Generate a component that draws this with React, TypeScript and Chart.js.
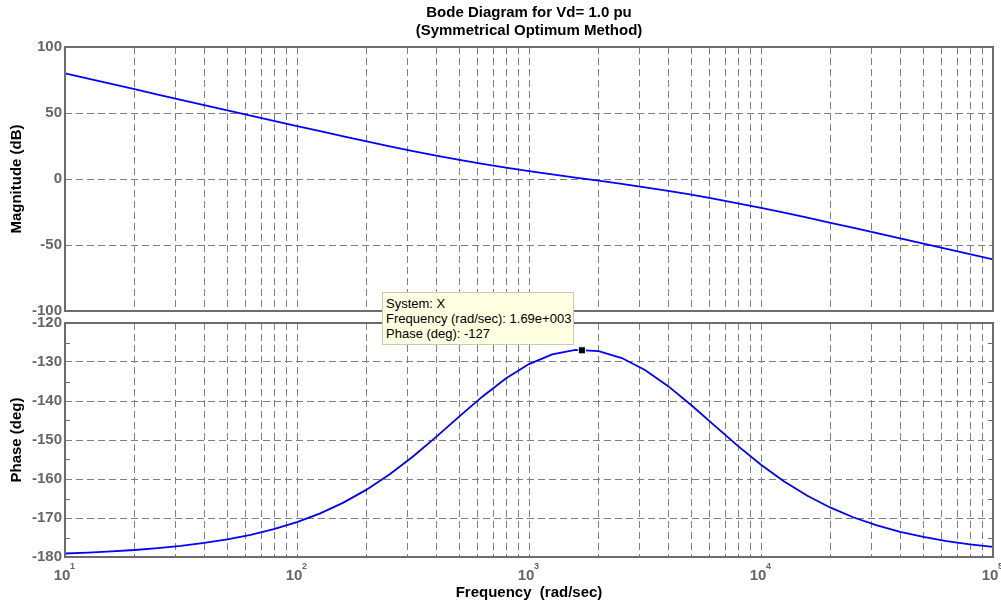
import React, { useEffect, useRef } from 'react';
import { Chart, registerables } from 'chart.js';

Chart.register(...registerables);

// ---- data ----
const freq = [
  10, 12.59, 15.85, 19.95, 25.12, 31.62, 39.81, 50.12, 63.1, 79.43,
  100, 125.9, 158.5, 199.5, 251.2, 316.2, 398.1, 501.2, 631, 794.3,
  1000, 1259, 1585, 1995, 2512, 3162, 3981, 5012, 6310, 7943,
  10000, 12589, 15849, 19953, 25119, 31623, 39811, 50119, 63096, 79433,
  100000,
];
const magnitudeDb = [
  80.0, 76.0, 72.0, 68.0, 64.01, 60.01, 56.02, 52.03, 48.05, 44.09,
  40.14, 36.21, 32.33, 28.51, 24.79, 21.19, 17.73, 14.49, 11.47, 8.65,
  6.02, 3.52, 1.1, -1.3, -3.74, -6.3, -9.01, -11.91, -15.04, -18.38,
  -21.88, -25.55, -29.32, -33.17, -37.07, -41.01, -44.97, -48.94, -52.93, -56.92,
  -60.9,
];
const phaseDeg = [
  -179.1, -178.86, -178.57, -178.2, -177.73, -177.14, -176.4, -175.48, -174.32, -172.87,
  -171.05, -168.81, -166.06, -162.73, -158.79, -154.24, -149.21, -143.96, -138.83, -134.23,
  -130.53, -128.03, -126.91, -127.23, -128.99, -132.05, -136.19, -141.08, -146.32, -151.51,
  -156.33, -160.63, -164.29, -167.36, -169.87, -171.91, -173.55, -174.86, -175.92, -176.76,
  -177.42,
];
const markerFreq = [1690];
const markerPhase = [-127];

const decades = [10, 100, 1000, 10000, 100000];
const decadeExponents = ['1', '2', '3', '4', '5'];
const gridMultipliers = [1, 2, 3, 4, 5, 6, 7, 8, 9];
const magTicks = [-100, -50, 0, 50, 100];
const phaseTicks = [-180, -170, -160, -150, -140, -130, -120];
const phaseMinorTicks = [-175, -165, -155, -145, -135, -125];

const titleLines = ['Bode Diagram for Vd= 1.0 pu', '(Symmetrical Optimum Method)'];
const xAxisTitle = 'Frequency  (rad/sec)';
const magAxisTitle = 'Magnitude (dB)';
const phaseAxisTitle = 'Phase (deg)';
const datatipLines = ['System: X', 'Frequency (rad/sec): 1.69e+003', 'Phase (deg): -127'];

// ---- styles ----
const FONT = "'Liberation Sans', Arial, Helvetica, sans-serif";
const TICK_COLOR = '#666666';
const GRID_COLOR = '#808080';
const FRAME_COLOR = '#6c6c6c';
const LINE_COLOR = '#0000ff';
const DASH = [7, 4];

const xTickValues = decades
  .slice(0, decades.length - 1)
  .flatMap((d) => gridMultipliers.map((m) => m * d))
  .concat([decades[decades.length - 1]]);

function framePlugin(minorTicks: number[] | null) {
  return {
    id: 'frameBox',
    afterDatasetsDraw(chart: any) {
      const { ctx, chartArea: a } = chart;
      ctx.save();
      ctx.setLineDash([]);
      ctx.strokeStyle = FRAME_COLOR;
      ctx.lineWidth = 2;
      ctx.strokeRect(a.left, a.top, a.right - a.left, a.bottom - a.top);
      if (minorTicks) {
        const ys = chart.scales.y;
        ctx.lineWidth = 1;
        minorTicks.forEach((v) => {
          const y = Math.round(ys.getPixelForValue(v)) + 0.5;
          ctx.beginPath();
          ctx.moveTo(a.left, y);
          ctx.lineTo(a.left + 5, y);
          ctx.moveTo(a.right, y);
          ctx.lineTo(a.right - 5, y);
          ctx.stroke();
        });
      }
      ctx.restore();
    },
  };
}

const exponentPlugin = {
  id: 'exponents',
  afterDraw(chart: any) {
    const { ctx } = chart;
    const xs = chart.scales.x;
    ctx.save();
    ctx.font = `bold 9px ${FONT}`;
    ctx.fillStyle = TICK_COLOR;
    ctx.textAlign = 'left';
    ctx.textBaseline = 'alphabetic';
    decades.forEach((d, i) => {
      const x = xs.getPixelForValue(d);
      ctx.fillText(decadeExponents[i], x + 5, xs.top + 12);
    });
    ctx.restore();
  },
};

function clearPadding(s: any) {
  s.paddingLeft = 0;
  s.paddingRight = 0;
  s.paddingTop = 0;
  s.paddingBottom = 0;
}

function xScale(showLabels: boolean) {
  return {
    type: 'logarithmic' as const,
    min: 10,
    max: 100000,
    afterBuildTicks: (s: any) => {
      s.ticks = xTickValues.map((v) => ({ value: v, major: decades.includes(v) }));
    },
    afterFit: (s: any) => {
      s.height = showLabels ? 49 : 0;
      clearPadding(s);
    },
    grid: { color: GRID_COLOR, lineWidth: 1, drawTicks: false },
    border: { display: false, dash: DASH },
    ticks: {
      display: showLabels,
      autoSkip: false,
      maxRotation: 0,
      padding: 10,
      labelOffset: -3,
      color: TICK_COLOR,
      font: { family: FONT, size: 15, weight: 'bold' as const },
      callback: (v: any) => (decades.includes(Number(v)) ? '10' : ''),
    },
  };
}

function yScale(min: number, max: number, ticks: number[], title: string) {
  return {
    type: 'linear' as const,
    min,
    max,
    afterBuildTicks: (s: any) => {
      s.ticks = ticks.map((v) => ({ value: v }));
    },
    afterFit: (s: any) => {
      s.width = 65;
      clearPadding(s);
    },
    grid: { color: GRID_COLOR, lineWidth: 1, drawTicks: false },
    border: { display: false, dash: DASH },
    ticks: {
      padding: 3,
      color: TICK_COLOR,
      font: { family: FONT, size: 15, weight: 'bold' as const },
    },
    title: {
      display: true,
      text: title,
      color: '#000000',
      font: { family: FONT, size: 15, weight: 'bold' as const },
      padding: { top: 8, bottom: 0 },
    },
  };
}

export default function App() {
  const magRef = useRef<HTMLCanvasElement | null>(null);
  const phaseRef = useRef<HTMLCanvasElement | null>(null);

  useEffect(() => {
    const magChart = new Chart(magRef.current as HTMLCanvasElement, {
      type: 'line',
      data: {
        datasets: [
          {
            label: 'Magnitude',
            data: freq.map((f, i) => ({ x: f, y: magnitudeDb[i] })),
            borderColor: LINE_COLOR,
            borderWidth: 1.8,
            pointRadius: 0,
            tension: 0,
          },
        ],
      },
      options: {
        responsive: false,
        animation: false,
        events: [],
        layout: { padding: { top: 47, bottom: 9, left: 0, right: 8 } },
        plugins: { legend: { display: false }, tooltip: { enabled: false } },
        scales: {
          x: xScale(false),
          y: yScale(-100, 100, magTicks, magAxisTitle),
        },
      },
      plugins: [framePlugin(null)],
    });

    const phaseChart = new Chart(phaseRef.current as HTMLCanvasElement, {
      type: 'line',
      data: {
        datasets: [
          {
            label: 'Phase',
            data: freq.map((f, i) => ({ x: f, y: phaseDeg[i] })),
            borderColor: LINE_COLOR,
            borderWidth: 1.8,
            pointRadius: 0,
            tension: 0,
            order: 2,
          },
          {
            label: 'Datatip',
            data: markerFreq.map((f, i) => ({ x: f, y: markerPhase[i] })),
            showLine: false,
            pointStyle: 'rect',
            pointRadius: 5,
            pointBackgroundColor: '#000000',
            pointBorderColor: '#ffffe1',
            pointBorderWidth: 1,
            order: 1,
          },
        ],
      },
      options: {
        responsive: false,
        animation: false,
        events: [],
        layout: { padding: { top: 23, bottom: 0, left: 0, right: 8 } },
        plugins: { legend: { display: false }, tooltip: { enabled: false } },
        scales: {
          x: xScale(true),
          y: yScale(-180, -120, phaseTicks, phaseAxisTitle),
        },
      },
      plugins: [framePlugin(phaseMinorTicks), exponentPlugin],
    });

    return () => {
      magChart.destroy();
      phaseChart.destroy();
    };
  }, []);

  return (
    <div
      style={{
        position: 'absolute',
        left: 0,
        top: 0,
        width: 1001,
        height: 606,
        background: '#ffffff',
        overflow: 'hidden',
        fontFamily: FONT,
      }}
    >
      <canvas
        ref={magRef}
        width={1001}
        height={320}
        style={{ position: 'absolute', left: 0, top: 0, width: 1001, height: 320 }}
      />
      <canvas
        ref={phaseRef}
        width={1001}
        height={306}
        style={{ position: 'absolute', left: 0, top: 300, width: 1001, height: 306 }}
      />
      <div
        style={{
          position: 'absolute',
          left: 65,
          width: 928,
          top: 3,
          textAlign: 'center',
          fontWeight: 'bold',
          fontSize: 15,
          lineHeight: '18px',
          color: '#000',
        }}
      >
        {titleLines.map((t) => (
          <div key={t}>{t}</div>
        ))}
      </div>
      <div
        style={{
          position: 'absolute',
          left: 65,
          width: 928,
          top: 583,
          textAlign: 'center',
          fontWeight: 'bold',
          fontSize: 15,
          lineHeight: '18px',
          whiteSpace: 'pre',
          color: '#000',
        }}
      >
        {xAxisTitle}
      </div>
      <div
        style={{
          position: 'absolute',
          left: 382,
          top: 292,
          width: 192,
          height: 53,
          boxSizing: 'border-box',
          background: '#ffffe1',
          border: '1px solid #c9c9b8',
          padding: '3px 0 0 3px',
          fontSize: 13,
          lineHeight: '15px',
          color: '#000',
          whiteSpace: 'nowrap',
        }}
      >
        {datatipLines.map((t) => (
          <div key={t}>{t}</div>
        ))}
      </div>
    </div>
  );
}
